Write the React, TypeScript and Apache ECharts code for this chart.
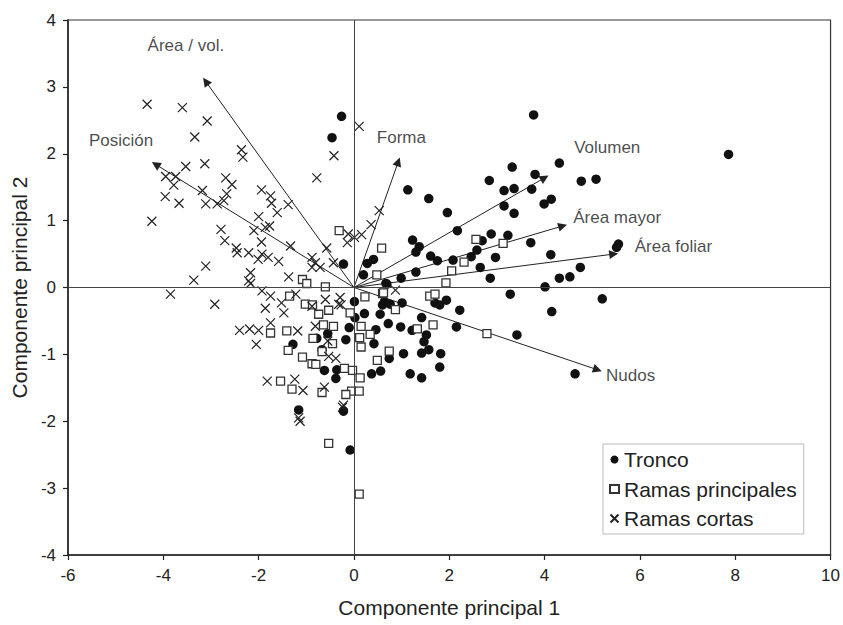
import React, { useEffect, useRef } from "react";
import * as echarts from "echarts";

const xTicks = { min: -6, max: 10, interval: 2 };
const yTicks = { min: -4, max: 4, interval: 1 };

const seriesNames = ["Tronco", "Ramas principales", "Ramas cortas"];

const tronco: number[][] = [
  [-0.26, 2.56], [-0.46, 2.24], [-0.22, 0.35],
  [3.77, 2.58], [4.31, 1.86], [3.32, 1.8], [3.8, 1.69], [2.84, 1.6], [4.77, 1.59], [5.08, 1.62],
  [3.15, 1.45], [3.36, 1.48], [3.73, 1.47], [4.14, 1.32], [3.99, 1.25], [1.13, 1.46], [1.57, 1.33],
  [3.15, 1.22], [3.36, 1.11], [1.96, 1.12], [2.17, 0.85], [2.88, 0.8], [3.23, 0.78], [2.69, 0.7],
  [3.71, 0.67], [1.23, 0.71], [1.37, 0.61], [1.3, 0.53], [1.61, 0.47], [1.75, 0.4], [2.08, 0.41],
  [2.46, 0.46], [2.58, 0.56], [2.97, 0.45], [4.13, 0.49], [5.55, 0.65], [5.51, 0.6], [2.65, 0.3],
  [4.75, 0.3], [4.53, 0.16], [4.31, 0.14], [2.86, 0.14], [4.01, 0.01], [1.3, 0.23], [0.99, 0.14],
  [0.67, 0.06], [0.41, 0.42], [0.28, 0.36], [0.2, 0.19],
  [7.86, 1.99], [5.21, -0.17], [4.15, -0.36], [4.64, -1.29],
  [0.69, 0.05], [3.28, -0.1], [3.42, -0.71], [0.01, -0.21], [0.64, -0.21], [0.76, -0.25], [0.6, -0.26],
  [1.01, -0.23], [1.7, -0.23], [1.8, -0.26], [1.94, -0.19], [2.22, -0.34], [0.22, -0.39], [0.02, -0.45],
  [0.55, -0.4], [1.42, -0.45], [0.72, -0.54], [0.98, -0.59], [1.22, -0.64], [1.52, -0.71], [1.47, -0.81],
  [2.15, -0.59], [0.46, -0.63], [-0.1, -0.6], [-0.17, -0.78], [0.42, -0.84], [1.57, -0.93], [1.42, -0.98],
  [1.04, -0.99], [1.82, -0.99], [0.74, -1.06], [1.8, -1.19], [0.56, -1.25], [0.37, -1.29], [1.18, -1.29],
  [1.42, -1.35], [-0.22, -1.85], [-0.08, -2.43],
  [-0.55, -0.69], [-0.78, -0.76], [-1.28, -0.85], [-0.67, -0.93], [-0.62, -1.24], [-0.36, -1.23],
  [-0.38, -1.36], [-1.16, -1.83]
];

const ramasPrincipales: number[][] = [
  [-0.31, 0.85], [-1.08, 0.12], [-0.99, 0.06], [-0.6, 0.01],
  [0.58, 0.59], [2.56, 0.72], [3.13, 0.66], [2.31, 0.38], [2.05, 0.25], [1.93, 0.07], [0.48, 0.19],
  [0.23, -0.14], [0.6, -0.09], [0.87, -0.33], [1.59, -0.13], [1.7, -0.1], [2.79, -0.69], [1.33, -0.62],
  [1.66, -0.56], [0.15, -0.58], [-0.08, -0.38], [0.34, -0.7], [0.12, -0.75], [0.15, -0.89], [0.74, -0.95],
  [0.49, -1.09], [-0.2, -1.21], [-0.03, -1.24], [0.13, -1.35], [-0.05, -1.55], [0.11, -1.55], [-0.17, -1.6],
  [0.11, -3.09], [-0.53, -2.33],
  [-1.41, -0.65], [-1.75, -0.68], [-1.38, -0.94], [-1.08, -1.04], [-0.88, -1.14], [-0.8, -1.15],
  [-0.86, -0.76], [-0.45, -0.84], [-0.67, -0.96], [-0.53, -0.34], [-1.02, -0.25], [-0.87, -0.26],
  [-0.74, -0.4], [-1.35, -0.13], [-0.64, -0.56], [-0.43, -0.58], [-1.54, -1.4], [-1.3, -1.52],
  [-0.67, -1.57], [0.62, -0.08]
];

const ramasCortas: number[][] = [
  [-4.34, 2.74], [-3.6, 2.69], [-3.08, 2.49], [-3.34, 2.25], [-0.42, 1.97], [-2.36, 2.06], [-2.33, 1.95],
  [-3.53, 1.81], [-3.13, 1.85], [-0.78, 1.64], [-3.95, 1.66], [-3.74, 1.66], [-3.78, 1.53], [-3.96, 1.36],
  [-3.67, 1.26], [-3.18, 1.45], [-3.11, 1.25], [-2.69, 1.64], [-2.56, 1.54], [-2.67, 1.4], [-2.73, 1.3],
  [-2.87, 1.25], [-4.24, 0.99], [-1.94, 1.46], [-1.75, 1.37], [-1.73, 1.26], [-1.61, 1.12], [-1.38, 1.24],
  [-2.0, 1.06], [-1.86, 0.9], [-1.77, 0.92], [-2.1, 0.85], [-2.79, 0.87], [-2.71, 0.7], [-2.47, 0.59],
  [-2.45, 0.52], [-2.21, 0.52], [-1.94, 0.68], [-1.93, 0.5], [-2.01, 0.42], [-1.8, 0.45], [-1.58, 0.39],
  [-1.33, 0.62], [-0.88, 0.45], [-0.81, 0.37], [-0.57, 0.59], [-0.43, 0.37], [-0.14, 0.67], [-3.11, 0.32],
  [-3.36, 0.11], [-2.17, 0.22], [-2.21, 0.1], [-1.37, 0.16],
  [0.11, 2.41], [0.53, 1.15], [0.36, 0.94], [0.16, 0.79], [0.01, 0.75],
  [0.87, -0.04], [-0.27, -0.26], [-0.24, -1.79], [-1.13, -2.0],
  [-3.85, -0.1], [-2.92, -0.25], [-2.17, 0.06], [-1.93, -0.05], [-1.75, -0.13], [-1.86, -0.31],
  [-1.52, -0.23], [-1.47, -0.38], [-1.75, -0.53], [-2.4, -0.64], [-2.19, -0.62], [-2.0, -0.64],
  [-2.05, -0.85], [-1.18, -0.65], [-1.22, -0.1], [-0.88, -0.28], [-0.81, -0.58], [-0.53, -1.03],
  [-0.38, -1.06], [-1.82, -1.4], [-1.24, -1.37], [-1.07, -1.54], [-0.62, -1.49], [-1.16, -1.95],
  [-0.22, -1.76], [-0.32, -0.25], [-0.55, -0.8], [-0.12, 0.8], [-0.88, 0.3], [-0.71, 0.3],
  [-0.29, -0.15], [-0.6, -0.18]
];

const vectorNames = ["Área / vol.", "Posición", "Forma", "Volumen", "Área mayor", "Área foliar", "Nudos"];
const vectorTips: number[][] = [
  [-3.11, 3.08], [-4.16, 1.84], [0.93, 1.88], [4.0, 1.64], [4.38, 0.92], [5.45, 0.5], [5.11, -1.23]
];
const labelAnchors: number[][] = [
  [-4.34, 3.62], [-5.57, 2.2], [0.47, 2.25], [4.61, 2.1], [4.59, 1.05], [5.88, 0.61], [5.28, -1.31]
];

const FONT = '"Liberation Sans", Arial, Helvetica, sans-serif';
const INK = "#222";

export default function App() {
  const ref = useRef<HTMLDivElement>(null);

  useEffect(() => {
    if (!ref.current) return;
    const chart = echarts.init(ref.current, undefined, { renderer: "svg" });
    const axisCommon = {
      type: "value",
      nameLocation: "middle",
      nameTextStyle: { fontSize: 21, color: INK, fontFamily: FONT },
      axisLine: { show: true, onZero: false, lineStyle: { color: INK, width: 1.5 } },
      axisTick: { show: true, inside: false, length: 5, lineStyle: { color: INK, width: 1.2 } },
      axisLabel: {
        fontSize: 17,
        color: INK,
        fontFamily: FONT,
        margin: 12,
        formatter: (v: number) => String(v).replace("\u2212", "-"),
      },
      splitLine: { show: false },
    };
    chart.setOption({
      animation: false,
      backgroundColor: "#fff",
      textStyle: { fontFamily: FONT },
      grid: {
        left: 68, right: 10, top: 20, bottom: 70,
        show: true, borderColor: "#333", borderWidth: 1.2, backgroundColor: "transparent",
      },
      xAxis: {
        ...axisCommon,
        ...xTicks,
        name: "Componente principal 1",
        nameGap: 42,
      },
      yAxis: {
        ...axisCommon,
        ...yTicks,
        name: "Componente principal 2",
        nameGap: 36,
      },
      legend: {
        orient: "vertical",
        left: 603,
        top: 444,
        padding: [5, 7, 5, 6],
        itemGap: 8.5,
        itemWidth: 9,
        itemHeight: 8,
        textStyle: { fontSize: 21, color: INK, lineHeight: 21, fontFamily: FONT },
        borderColor: "#bbb",
        borderWidth: 1,
        backgroundColor: "#fff",
        data: seriesNames,
      },
      series: [
        {
          type: "lines",
          coordinateSystem: "cartesian2d",
          silent: true,
          z: 1,
          symbol: ["none", "triangle"],
          symbolSize: [0, 9],
          lineStyle: { color: INK, width: 1, opacity: 1, curveness: 0 },
          data: vectorTips.map((t) => ({ coords: [[0, 0], t] })),
        },
        {
          name: seriesNames[0],
          type: "scatter",
          z: 3,
          symbol: "circle",
          symbolSize: 9.5,
          itemStyle: { color: "#111", opacity: 1 },
          data: tronco,
          markLine: {
            silent: true,
            symbol: ["none", "none"],
            label: { show: false },
            lineStyle: { color: "#444", width: 1, type: "solid" },
            data: [{ xAxis: 0 }, { yAxis: 0 }],
          },
        },
        {
          name: seriesNames[1],
          type: "scatter",
          z: 3,
          symbol: "rect",
          symbolSize: 8,
          itemStyle: { color: "#fff", borderColor: "#333", borderWidth: 1.3, opacity: 1 },
          data: ramasPrincipales,
        },
        {
          name: seriesNames[2],
          type: "scatter",
          z: 3,
          symbol: "path://M0,0L10,10M10,0L0,10",
          symbolSize: 9,
          itemStyle: { color: "rgba(0,0,0,0)", borderColor: INK, borderWidth: 1.2, opacity: 1 },
          data: ramasCortas,
        },
        {
          name: "vectorLabels",
          type: "scatter",
          silent: true,
          z: 4,
          symbolSize: 1,
          itemStyle: { color: "rgba(0,0,0,0)" },
          label: {
            show: true,
            position: "right",
            distance: 0,
            formatter: "{b}",
            fontSize: 17,
            color: "#1a1a1a",
            fontFamily: FONT,
          },
          data: labelAnchors.map((p, i) => ({ value: p, name: vectorNames[i] })),
        },
      ],
    });
    return () => chart.dispose();
  }, []);

  return (
    <div
      ref={ref}
      style={{ position: "fixed", left: 0, top: 0, width: 843, height: 625, background: "#fff" }}
    />
  );
}
